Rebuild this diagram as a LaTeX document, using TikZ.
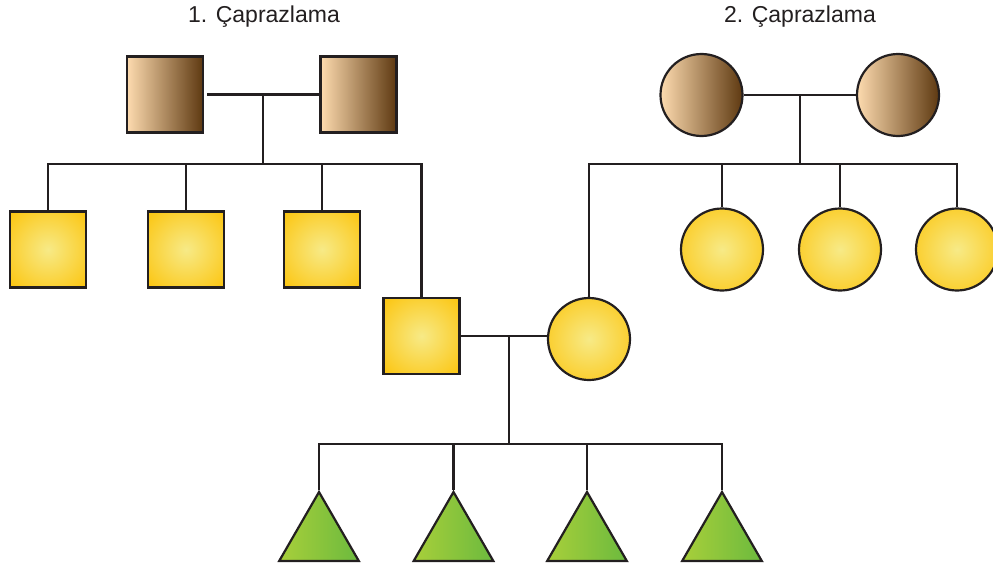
\documentclass[tikz,border=0pt]{standalone}
\usepackage{fontspec}
\setmainfont{Liberation Sans}
\usetikzlibrary{shapes.geometric}
\definecolor{lc}{RGB}{35,31,32}
\definecolor{brL}{RGB}{253,219,175}
\definecolor{brD}{RGB}{94,57,17}
\definecolor{yc}{RGB}{247,234,135}
\definecolor{yo}{RGB}{252,196,12}
\definecolor{grL}{RGB}{168,207,58}
\definecolor{grR}{RGB}{108,186,62}
\pgfdeclareradialshading{yelshade}{\pgfpoint{0bp}{0bp}}{color(0bp)=(yc); color(36bp)=(yo); color(72bp)=(yo)}
\tikzset{
  pm/.style={rectangle, draw=lc, line width=2.2pt, minimum size=76pt, inner sep=0pt, left color=brL, right color=brD},
  pf/.style={circle, draw=lc, line width=2.2pt, minimum size=82pt, inner sep=0pt, left color=brL, right color=brD},
  ym/.style={rectangle, draw=lc, line width=2.2pt, minimum size=76pt, inner sep=0pt, shade, shading=yelshade},
  yf/.style={circle, draw=lc, line width=2.2pt, minimum size=82pt, inner sep=0pt, shade, shading=yelshade},
  ch/.style={regular polygon, regular polygon sides=3, draw=lc, line width=2.2pt, minimum size=92pt, inner sep=0pt, left color=grL, right color=grR},
  link/.style={draw=lc, line width=2.2pt},
  lab/.style={font=\fontsize{23}{27}\selectfont, text=lc, anchor=base, inner sep=0pt}
}
\begin{document}
\begin{tikzpicture}[x=1pt,y=-1pt]
\useasboundingbox (0,0) rectangle (993,570);
% titles
\node[lab] (lab1) at (264,22) {1. Çaprazlama};
\node[lab] (lab2) at (800,22) {2. Çaprazlama};
% parents, cross 1
\node[pm] (p1) at (165,94.5) {};
\node[pm] (p2) at (358.5,94.5) {};
% parents, cross 2
\node[pf] (f1) at (701.5,95) {};
\node[pf] (f2) at (898,95) {};
% children, cross 1
\node[ym] (y1) at (48,249.5) {};
\node[ym] (y2) at (186,249.5) {};
\node[ym] (y3) at (322,249.5) {};
\node[ym] (son) at (421.5,336) {};
% children, cross 2
\node[yf] (dil) at (589,339) {};
\node[yf] (r1) at (722,249.5) {};
\node[yf] (r2) at (840,249.5) {};
\node[yf] (r3) at (957,249.5) {};
% grandchildren
\node[ch] (k1) at (319,538) {};
\node[ch] (k2) at (453.5,538) {};
\node[ch] (k3) at (587,538) {};
\node[ch] (k4) at (722,538) {};
% connectors cross 1
\draw[link, shorten <=3pt] (p1.east) -- (p2.west);
\coordinate (m1) at (263,94.5);
\coordinate (b1) at (263,164);
\draw[link] (m1) -- (b1);
\draw[link] (y1.north) -- (y1.north |- b1) -- (son.north |- b1) -- (son.north);
\foreach \n in {y2,y3} \draw[link] (\n.north |- b1) -- (\n.north);
% connectors cross 2
\draw[link] (f1.east) -- (f2.west);
\coordinate (m2) at (800,95);
\coordinate (b2) at (800,164);
\draw[link] (m2) -- (b2);
\draw[link] (dil.north) -- (dil.north |- b2) -- (r3.north |- b2) -- (r3.north);
\foreach \n in {r1,r2} \draw[link] (\n.north |- b2) -- (\n.north);
% marriage of son
\draw[link] (son.east) -- (son.east -| dil.west);
\coordinate (m3) at (509,336);
\coordinate (b3) at (509,444);
\draw[link] (m3) -- (b3);
\draw[link] (k1.corner 1) -- (k1.corner 1 |- b3) -- (k4.corner 1 |- b3) -- (k4.corner 1);
\foreach \n in {k2,k3} \draw[link] (\n.corner 1 |- b3) -- (\n.corner 1);
\end{tikzpicture}
\end{document}
